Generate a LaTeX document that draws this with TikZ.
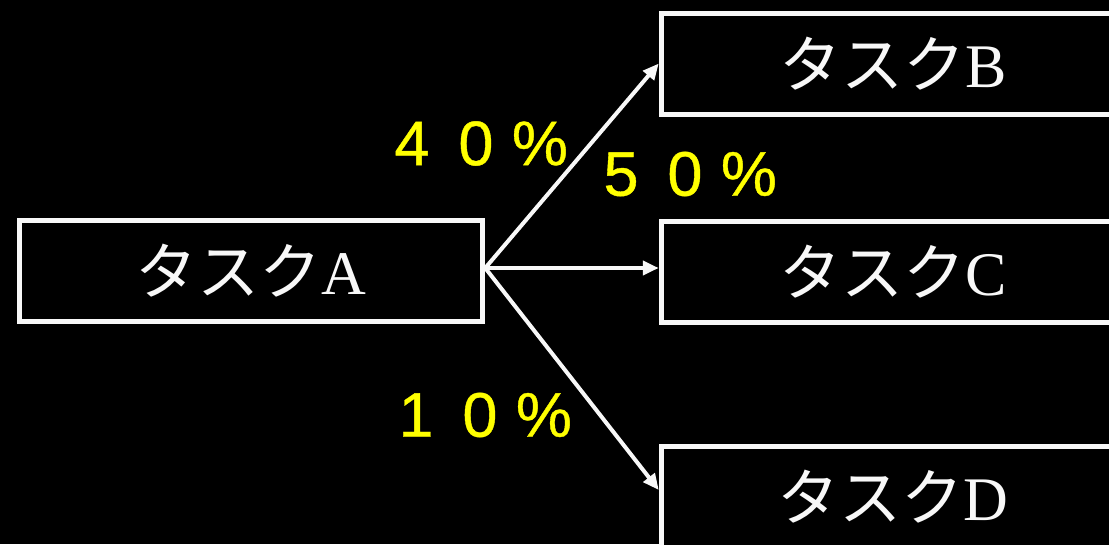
\documentclass[tikz,border=0pt]{standalone}
\usepackage{fontspec}
\setmainfont{Liberation Serif}
\newfontfamily\jp{Noto Sans CJK JP}
\newfontfamily\arialfont[FakeBold=0.6]{Liberation Sans}
\usetikzlibrary{arrows.meta}
\definecolor{boxwhite}{HTML}{F8F8F8}
\definecolor{pctyellow}{HTML}{FFFF00}
\newcommand\fwcell[1]{\makebox[64pt]{#1}}
\begin{document}
\begin{tikzpicture}[x=1pt,y=-1pt,
  taskbox/.style={draw=boxwhite, line width=5pt, fill=black, text=boxwhite,
    minimum width=463.5pt, minimum height=101pt, inner sep=0pt,
    font=\fontsize{62pt}{70pt}\selectfont},
  pct/.style={text=pctyellow, inner sep=0pt, font=\arialfont\fontsize{63pt}{68pt}\selectfont},
  arr/.style={draw=boxwhite, line width=4pt, -{Triangle[length=16pt,width=14pt]}}]
\useasboundingbox (0,0) rectangle (1109,544);
\fill[black] (0,0) rectangle (1109,544);
\clip (0,0) rectangle (1109,544);
\node[taskbox] (A) at (251,271) {{\jp タスク}A};
\node[taskbox] (B) at (893,63.5) {{\jp タスク}B};
\node[taskbox] (C) at (893,272) {{\jp タスク}C};
\node[taskbox] (D) at (893,497) {{\jp タスク}D};
\coordinate (s) at ([yshift=3pt]A.east);
\draw[arr] (s) -- (B.west);
\draw[arr] (s) -- ([yshift=4pt]C.west);
\draw[arr] (s) -- ([yshift=7pt]D.west);
\node[pct] (p40) at (476,143.5) {\fwcell{4}\fwcell{0}\fwcell{\%}};
\node[pct] (p50) at (685,174) {\fwcell{5}\fwcell{0}\fwcell{\%}};
\node[pct] (p10) at (480,415) {\fwcell{1}\fwcell{0}\fwcell{\%}};
\end{tikzpicture}
\end{document}
